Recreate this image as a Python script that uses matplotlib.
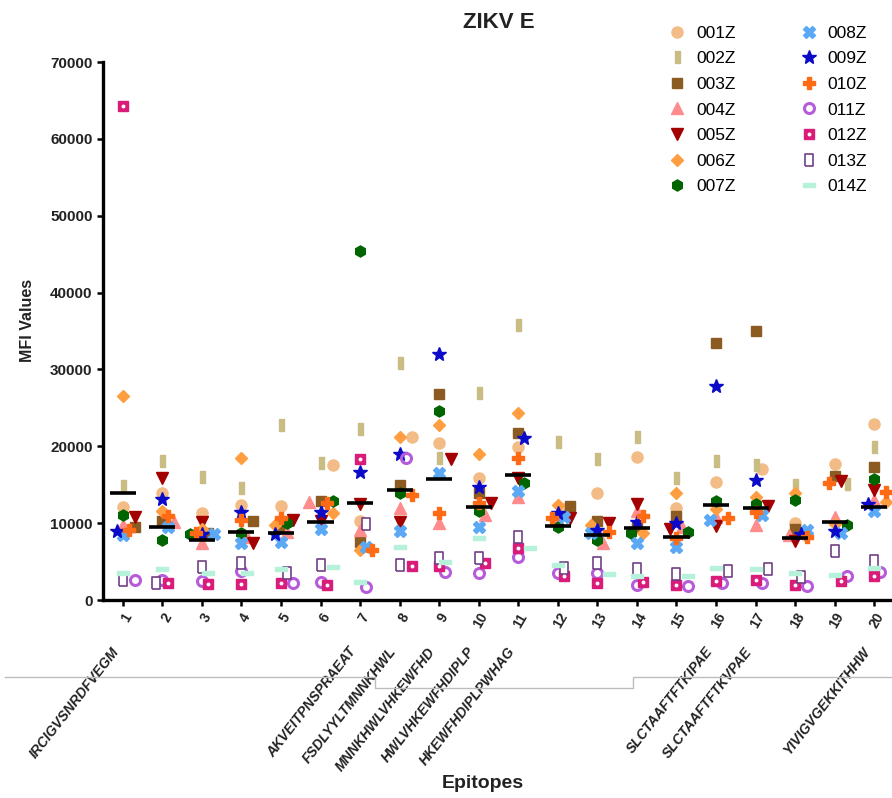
import numpy as np
import matplotlib.pyplot as plt
from matplotlib.path import Path
from matplotlib.lines import Line2D

plt.rcParams['font.family'] = ['Liberation Sans', 'DejaVu Sans']

epitopes = np.arange(1, 21)
tick_labels = [str(e) for e in epitopes]
sequences = {1: 'IRCIGVSNRDFVEGM', 7: 'AKVEITPNSPRAEAT', 8: 'FSDLYYLTMNNKHWL',
             9: 'MNNKHWLVHKEWFHD', 10: 'HWLVHKEWFHDIPLP', 11: 'HKEWFHDIPLPWHAG',
             16: 'SLCTAAFTFTKIPAE', 17: 'SLCTAAFTFTKVPAE', 20: 'YIVIGVGEKKITHHW'}

# MFI values per patient, epitopes 1..20
p001 = [12130, 13950, 11350, 12350, 12260, 17550, 10310, 21150, 20370, 15820,
        19930, 11790, 13870, 18630, 11920, 15300, 16990, 10050, 17640, 22880]
p002 = [14820, 18070, 16030, 14520, 22750, 17770, 22190, 30850, 18500, 26950,
        35750, 20580, 18290, 21230, 15900, 18110, 17550, 14950, 15080, 19930]
p003 = [9530, 10310, 8670, 10310, 9660, 12910, 7580, 14950, 26780, 13870,
        21750, 12220, 10270, 9320, 10920, 33500, 35010, 9190, 16120, 17250]
p004 = [9750, 10180, 7370, 8230, 8900, 12700, 9100, 11920, 9970, 11050,
        13350, 10400, 7370, 11610, 9530, 10750, 9750, 8500, 10750, 13000]
p005 = [10830, 15820, 10180, 7370, 10400, 10310, 12480, 10180, 18290, 12570,
        15820, 10620, 10050, 12480, 9190, 9620, 12220, 7710, 15470, 14300]
p006 = [26560, 11610, 9190, 18420, 9800, 11350, 6530, 21200, 22750, 18980,
        24270, 12350, 9800, 8670, 13950, 11790, 13350, 13950, 9880, 12780]
p007 = [11050, 7800, 8600, 8750, 9970, 12870, 45400, 13950, 24570, 11610,
        15170, 9530, 7800, 8670, 8880, 12910, 12480, 13000, 9750, 15730]
p008 = [8450, 9530, 8600, 7370, 7580, 9190, 6930, 8970, 16550, 9530,
        14210, 10830, 8670, 7370, 6850, 10400, 11050, 9100, 8670, 11610]
p009 = [9000, 13090, 8600, 11480, 8600, 11480, 16680, 18940, 32070, 14730,
        21020, 11270, 9100, 10180, 9970, 27860, 15600, 8600, 9010, 12480]
p010 = [9100, 10920, 8670, 10400, 10620, 12570, 6500, 13650, 11350, 12650,
        18420, 10620, 8880, 10920, 8020, 10620, 11480, 8200, 15200, 14080]
p011 = [2540, 2540, 2500, 3810, 2210, 2380, 1730, 18500, 3680, 3470,
        5550, 3470, 3550, 1950, 1820, 2170, 2170, 1820, 3120, 3680]
p012 = [64300, 2210, 2040, 2080, 2210, 1950, 18290, 4460, 4420, 4770,
        6720, 3120, 2170, 2380, 1950, 2510, 2600, 1950, 2510, 3120]
p013 = [2600, 2210, 4250, 4770, 3550, 4550, 9880, 4550, 5500, 5420,
        8150, 4120, 4850, 3990, 3380, 3810, 3990, 2950, 6410, 5110]
p014 = [3550, 4030, 3550, 3470, 3990, 4250, 2380, 6930, 4900, 8100,
        6720, 4550, 3380, 3120, 3160, 4120, 3990, 3470, 3250, 4120]

patients = ['001Z', '002Z', '003Z', '004Z', '005Z', '006Z', '007Z',
            '008Z', '009Z', '010Z', '011Z', '012Z', '013Z', '014Z']
values = np.array([p001, p002, p003, p004, p005, p006, p007,
                   p008, p009, p010, p011, p012, p013, p014], dtype=float)

vrect = Path([(-0.45, -1), (0.45, -1), (0.45, 1), (-0.45, 1), (-0.45, -1)])
orect = Path([(-0.6, -1), (0.6, -1), (0.6, 1), (-0.6, 1), (-0.6, -1)])
hrect = Path([(-1, -0.42), (1, -0.42), (1, 0.42), (-1, 0.42), (-1, -0.42)])

styles = {
    '001Z': dict(marker='o', ms=8.0, mfc='#F3BC86', mec='#F3BC86'),
    '002Z': dict(marker=vrect, ms=8.0, mfc='#C9BD84', mec='#C9BD84'),
    '003Z': dict(marker='s', ms=7.6, mfc='#8C5B22', mec='#8C5B22'),
    '004Z': dict(marker='^', ms=8.0, mfc='#FF8C8C', mec='#FF8C8C'),
    '005Z': dict(marker='v', ms=8.0, mfc='#A30000', mec='#A30000'),
    '006Z': dict(marker='D', ms=6.2, mfc='#FF9E40', mec='#FF9E40'),
    '007Z': dict(marker='h', ms=8.0, mfc='#006400', mec='#006400'),
    '008Z': dict(marker='X', ms=8.4, mfc='#5BA8F5', mec='#5BA8F5'),
    '009Z': dict(marker='*', ms=10.0, mfc='#0A0AC8', mec='#0A0AC8'),
    '010Z': dict(marker='P', ms=8.2, mfc='#FF6A14', mec='#FF6A14'),
    '011Z': dict(marker='o', ms=7.2, mfc='none', mec='#B65BD9', mew=2.2),
    '012Z': dict(marker='s', ms=7.4, mfc='#D91C7A', mec='#D91C7A'),
    '013Z': dict(marker=orect, ms=9.0, mfc='white', mec='#713F85', mew=1.2),
    '014Z': dict(marker=hrect, ms=8.0, mfc='#B6F2DA', mec='#B6F2DA'),
}
dot = dict(marker='o', ms=1.8, mfc='white', mec='white')

fig = plt.figure(figsize=(8.92, 7.98), dpi=100)
ax = fig.add_axes([103 / 892, 1 - 600 / 798, 789 / 892, 538 / 798])
ax.set_xlim(0.5, 20.45)
ax.set_ylim(0, 70000)

# pixel scale for the swarm spread
fig.canvas.draw()
p0 = ax.transData.transform((0, 0))
p1 = ax.transData.transform((1, 10000))
sx = p1[0] - p0[0]
sy = (p1[1] - p0[1]) / 10000


def swarm(vals, min_d=6.5, step=6.0):
    offs = np.zeros(len(vals))
    placed = []
    for i in np.argsort(-vals):
        yp = vals[i] * sy
        best, best_d = 0.0, -1.0
        for k in [0, 1, -1, 2, -2]:
            xp = k * step
            d = min([np.hypot(xp - a, yp - b) for a, b in placed] or [99])
            if d >= min_d:
                best = xp
                break
            if d > best_d:
                best, best_d = xp, d
        offs[i] = best / sx
        placed.append((best, yp))
    return offs


offsets = np.array([swarm(values[:, j]) for j in range(len(epitopes))]).T

for i, p in enumerate(patients):
    xs = epitopes + offsets[i]
    ax.plot(xs, values[i], ls='none', zorder=3, **styles[p])
    if p == '012Z':
        ax.plot(xs, values[i], ls='none', zorder=4, **dot)

means = values.mean(axis=0)
for e, m in zip(epitopes, means):
    ax.plot([e - 0.33, e + 0.33], [m, m], color='black', lw=2.6, zorder=5,
            solid_capstyle='butt')

for s in ['top', 'right']:
    ax.spines[s].set_visible(False)
for s in ['left', 'bottom']:
    ax.spines[s].set_linewidth(2.4)
ax.tick_params(width=1.8, length=4)
ax.set_yticks(np.arange(0, 70001, 10000))
ax.set_yticklabels([str(v) for v in range(0, 70001, 10000)],
                   fontsize=11, fontweight='bold', color='#222222')
ax.set_xticks(epitopes)
ax.set_xticklabels(tick_labels, rotation=60, ha='right', rotation_mode='anchor',
                   fontsize=10, fontweight='bold', color='#222222')

for e, seq in sequences.items():
    ax.text(e - 0.3, -0.083, seq, transform=ax.get_xaxis_transform(),
            rotation=52, ha='right', va='top', rotation_mode='anchor',
            fontsize=10, fontweight='bold', fontstyle='italic', color='#222222')

fig.text(499 / 892, 1 - 23 / 798, 'ZIKV E', ha='center', va='center',
         fontsize=16, fontweight='bold', color='#222222')
fig.text(28 / 892, 1 - 320 / 798, 'MFI Values', rotation=90, ha='center',
         va='center', fontsize=11.5, fontweight='bold', color='#222222')
fig.text(483 / 892, 1 - 783 / 798, 'Epitopes', ha='center', va='center',
         fontsize=14, fontweight='bold', color='#222222')

# grey connector lines under the labels
gx = [5, 375, 375, 633, 633, 892]
gy = [677, 677, 688, 688, 677, 677]
fig.add_artist(Line2D([x / 892 for x in gx], [1 - y / 798 for y in gy],
                      transform=fig.transFigure, color='#bdbdbd', lw=1))

handles = []
for p in patients:
    h = Line2D([], [], ls='none', **styles[p])
    if p == '012Z':
        h = (h, Line2D([], [], ls='none', **dot))
    handles.append(h)
fig.legend(handles, patients, loc='upper left', ncol=2, frameon=False,
           bbox_to_anchor=(658 / 892, 1 - 17 / 798), borderpad=0,
           fontsize=12.5, labelspacing=0.6, handlelength=1.2,
           handletextpad=0.5, columnspacing=3.6)

fig.savefig('out.png', dpi=100)
